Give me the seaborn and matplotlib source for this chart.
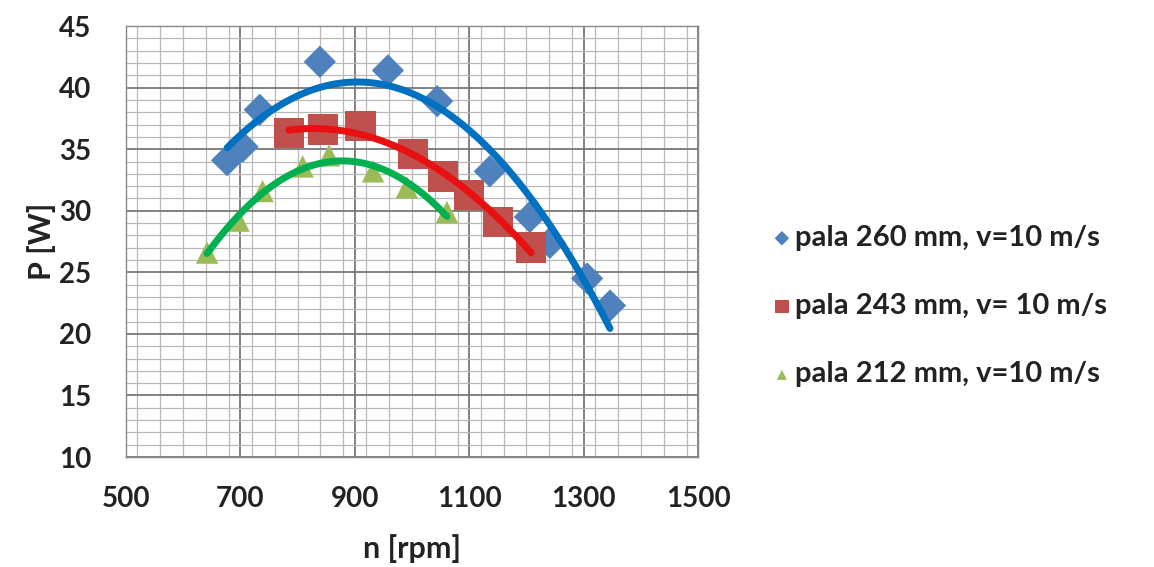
import numpy as np
import pandas as pd
import matplotlib
matplotlib.use("Agg")
import matplotlib.pyplot as plt
from matplotlib.ticker import MultipleLocator
import seaborn as sns

# datos
n_260 = [677, 704, 734, 839, 958, 1044, 1136, 1206, 1241, 1306, 1346]
p_260 = [34.1, 35.2, 38.2, 42.1, 41.4, 38.9, 33.2, 29.5, 27.4, 24.5, 22.3]
n_243 = [785, 845, 910, 1002, 1054, 1100, 1150, 1208]
p_243 = [36.3, 36.6, 36.9, 34.6, 32.8, 31.3, 29.1, 27.0]
n_212 = [642, 697, 739, 809, 855, 932, 991, 1061]
p_212 = [26.6, 29.2, 31.6, 33.6, 34.5, 33.2, 31.9, 29.9]

etiquetas = ["pala 260 mm, v=10 m/s", "pala 243 mm, v= 10 m/s", "pala 212 mm, v=10 m/s"]
ticks_x = [500, 700, 900, 1100, 1300, 1500]
marcadores = ["D", "s", "^"]
col_puntos = ["#4F81BD", "#C0504D", "#9BBB59"]
col_lineas = ["#0070C0", "#E81010", "#00B050"]
tam = [270, 480, 260]

sns.set_style("white")
plt.rcParams['font.family'] = ['Lato', 'DejaVu Sans']

fig = plt.figure(figsize=(11.54, 5.67), dpi=100)
ax = fig.add_axes([0.109, 0.194, 0.496, 0.760])

series = [(n_260, p_260), (n_243, p_243), (n_212, p_212)]
for i, (n, p) in enumerate(series):
    df = pd.DataFrame({'n': n, 'P': p})
    sns.scatterplot(data=df, x='n', y='P', marker=marcadores[i], s=tam[i],
                    color=col_puntos[i], edgecolor='none', ax=ax, label=etiquetas[i], zorder=3)
    # linea de tendencia polinomica de orden 2
    coef = np.polyfit(n, p, 2)
    xs = np.linspace(min(n), max(n), 200)
    fit_df = pd.DataFrame({'n': xs, 'P': np.polyval(coef, xs)})
    sns.lineplot(data=fit_df, x='n', y='P', color=col_lineas[i], linewidth=5, ax=ax, zorder=4)

ax.set_xlim(500, 1500)
ax.set_ylim(10, 45)
ax.set_xticks(ticks_x)
ax.xaxis.set_minor_locator(MultipleLocator(40))
ax.yaxis.set_major_locator(MultipleLocator(5))
ax.yaxis.set_minor_locator(MultipleLocator(1))
ax.grid(which='major', color='#777777', linewidth=1.3)
ax.grid(which='minor', color='#B8B8B8', linewidth=0.9)
ax.set_axisbelow(True)
for s in ax.spines.values():
    s.set_color('#888888')
    s.set_linewidth(1.0)

ax.tick_params(axis='both', which='major', labelsize=20, length=7, color='#555555', direction='out')
ax.tick_params(axis='y', pad=18)
ax.tick_params(axis='x', pad=14)
for lab in ax.get_xticklabels() + ax.get_yticklabels():
    lab.set_fontweight('bold')
    lab.set_color('#222222')

ax.set_xlabel('n [rpm]', fontsize=22, fontweight='bold', color='#222222', labelpad=16)
ax.set_ylabel('P [W]', fontsize=22, fontweight='bold', color='#222222', labelpad=2)

# leyenda solo con los marcadores
h, l = ax.get_legend_handles_labels()
leg = ax.legend(h[:3], l[:3], loc='center left', bbox_to_anchor=(1.08, 0.35),
                frameon=False, fontsize=21, handletextpad=0.05, labelspacing=1.45,
                markerscale=0.45, handlelength=0.8)
for t in leg.get_texts():
    t.set_fontweight('bold')
    t.set_color('#222222')

fig.savefig('out.png', dpi=100)
